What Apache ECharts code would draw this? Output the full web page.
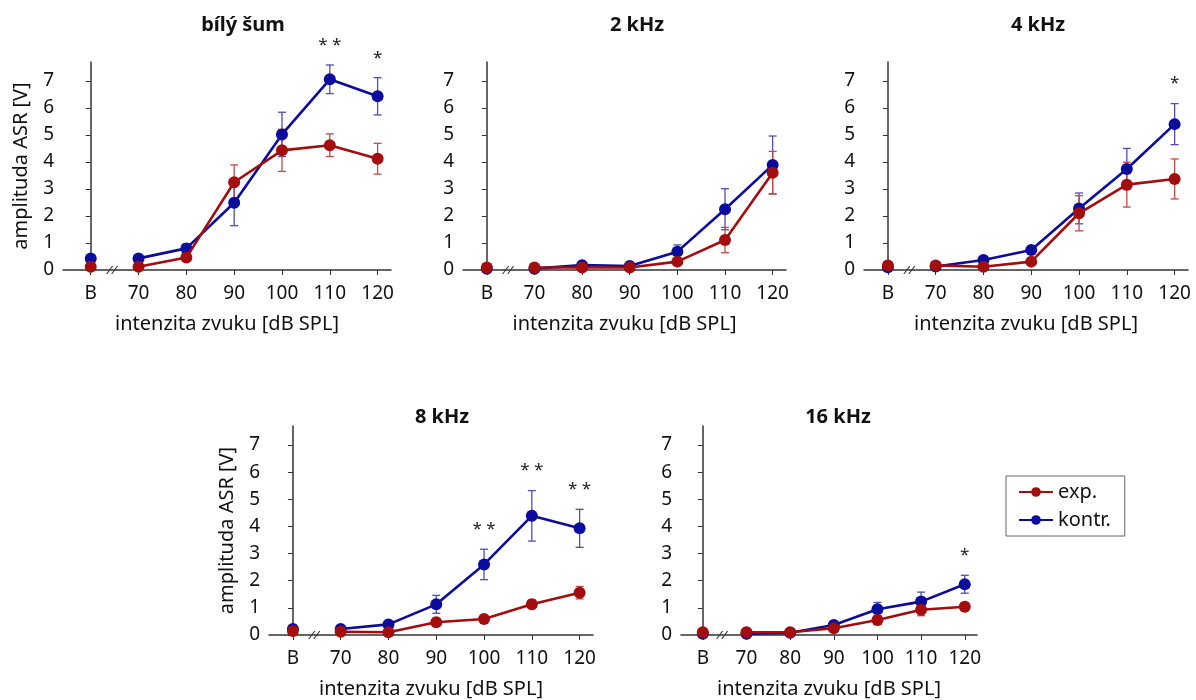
<!DOCTYPE html>
<html lang="cs">
<head>
    <meta charset="UTF-8">
    <title>ASR amplituda</title>
    <script src="https://cdn.jsdelivr.net/npm/echarts@6/dist/echarts.min.js"></script>
    <style>
        body { margin: 0; background: #fff; }
        #main { width: 1196px; height: 700px; }
    </style>
</head>
<body>
<div id="main"></div>
<script>
// data
var categories = ['B', '70', '80', '90', '100', '110', '120'];
var panelTitles = ['bílý šum', '2 kHz', '4 kHz', '8 kHz', '16 kHz'];

var expNoise = [0.12, 0.12, 0.46, 3.25, 4.43, 4.62, 4.12];
var expNoiseErr = [0.05, 0.05, 0.08, 0.64, 0.78, 0.42, 0.57];
var ctrlNoise = [0.43, 0.43, 0.80, 2.49, 5.02, 7.06, 6.43];
var ctrlNoiseErr = [0.05, 0.05, 0.16, 0.85, 0.82, 0.53, 0.69];

var exp2k = [0.09, 0.09, 0.09, 0.09, 0.31, 1.11, 3.60];
var exp2kErr = [0.03, 0.03, 0.03, 0.03, 0.12, 0.47, 0.79];
var ctrl2k = [0.05, 0.05, 0.18, 0.15, 0.68, 2.25, 3.89];
var ctrl2kErr = [0.03, 0.03, 0.04, 0.04, 0.25, 0.76, 1.07];

var exp4k = [0.17, 0.17, 0.12, 0.31, 2.10, 3.16, 3.37];
var exp4kErr = [0.03, 0.03, 0.04, 0.08, 0.65, 0.83, 0.74];
var ctrl4k = [0.10, 0.13, 0.37, 0.74, 2.28, 3.74, 5.40];
var ctrl4kErr = [0.03, 0.03, 0.06, 0.10, 0.57, 0.76, 0.76];

var exp8k = [0.15, 0.12, 0.10, 0.47, 0.59, 1.13, 1.56];
var exp8kErr = [0.03, 0.03, 0.03, 0.10, 0.07, 0.16, 0.23];
var ctrl8k = [0.22, 0.22, 0.39, 1.13, 2.60, 4.39, 3.93];
var ctrl8kErr = [0.03, 0.03, 0.05, 0.33, 0.56, 0.93, 0.70];

var exp16k = [0.10, 0.10, 0.10, 0.25, 0.55, 0.93, 1.04];
var exp16kErr = [0.03, 0.03, 0.03, 0.06, 0.17, 0.22, 0.15];
var ctrl16k = [0.05, 0.05, 0.08, 0.37, 0.95, 1.23, 1.87];
var ctrl16kErr = [0.03, 0.03, 0.03, 0.06, 0.25, 0.35, 0.33];

// significance marks
var sigNoise = ['', '', '', '', '', '**', '*'];
var sig2k = ['', '', '', '', '', '', ''];
var sig4k = ['', '', '', '', '', '', '*'];
var sig8k = ['', '', '', '', '**', '**', '**'];
var sig16k = ['', '', '', '', '', '', '*'];

var yTicks = [0, 1, 2, 3, 4, 5, 6, 7];

var panels = [
    { exp: expNoise, expErr: expNoiseErr, ctrl: ctrlNoise, ctrlErr: ctrlNoiseErr, sig: sigNoise },
    { exp: exp2k, expErr: exp2kErr, ctrl: ctrl2k, ctrlErr: ctrl2kErr, sig: sig2k },
    { exp: exp4k, expErr: exp4kErr, ctrl: ctrl4k, ctrlErr: ctrl4kErr, sig: sig4k },
    { exp: exp8k, expErr: exp8kErr, ctrl: ctrl8k, ctrlErr: ctrl8kErr, sig: sig8k },
    { exp: exp16k, expErr: exp16kErr, ctrl: ctrl16k, ctrlErr: ctrl16kErr, sig: sig16k }
];

// layout of the five plots
var layout = [
    { left: 63, top: 62, width: 328, height: 208, xMin: -0.58, tx: 238, ty: 10, yName: true },
    { left: 463, top: 62, width: 323, height: 208, xMin: -0.5, tx: 632, ty: 10, yName: false },
    { left: 864, top: 62, width: 324, height: 208, xMin: -0.5, tx: 1033, ty: 10, yName: false },
    { left: 269, top: 426, width: 324, height: 209, xMin: -0.5, tx: 437, ty: 402, yName: true },
    { left: 681, top: 426, width: 296, height: 209, xMin: -0.5, tx: 833, ty: 402, yName: false }
];

var FONT = 'Noto Sans';
var RED = '#a30d0d';
var BLUE = '#0b0b9c';
var RED_ERR = '#c24a4a';
var BLUE_ERR = '#4f4fb4';
var AXIS = '#333';

var myChart = echarts.init(document.getElementById('main'));

function pairs(vals) {
    var out = [];
    vals.forEach(function (v, i) {
        out.push([i, v]);
        if (i === 0) out.push([0.5, '-']); // break between B and 70
    });
    return out;
}

function errData(vals, errs) {
    return vals.map(function (v, i) { return [i, v, errs[i]]; });
}

function errRender(color) {
    return function (params, api) {
        var x = api.value(0), m = api.value(1), e = api.value(2);
        var hi = api.coord([x, m + e]);
        var lo = api.coord([x, Math.max(0, m - e)]);
        var w = 4;
        var st = { stroke: color, lineWidth: 1.3 };
        return {
            type: 'group',
            children: [
                { type: 'line', shape: { x1: hi[0], y1: hi[1], x2: lo[0], y2: lo[1] }, style: st },
                { type: 'line', shape: { x1: hi[0] - w, y1: hi[1], x2: hi[0] + w, y2: hi[1] }, style: st },
                { type: 'line', shape: { x1: lo[0] - w, y1: lo[1], x2: lo[0] + w, y2: lo[1] }, style: st }
            ]
        };
    };
}

function sigRender(params, api) {
    var p = api.coord([api.value(0), api.value(1)]);
    return {
        type: 'text',
        x: p[0],
        y: p[1] - 20,
        style: {
            text: api.value(2).split('').join(' '),
            fill: '#222',
            font: '17px "' + FONT + '"',
            align: 'center',
            verticalAlign: 'middle'
        }
    };
}

function breakRender(params, api) {
    var p = api.coord([api.value(0), api.value(1)]);
    var st = { stroke: AXIS, lineWidth: 1.1 };
    return {
        type: 'group',
        children: [
            { type: 'line', shape: { x1: p[0] - 8, y1: p[1] + 4, x2: p[0] - 2, y2: p[1] - 4 }, style: st },
            { type: 'line', shape: { x1: p[0] - 3, y1: p[1] + 4, x2: p[0] + 3, y2: p[1] - 4 }, style: st }
        ]
    };
}

var grids = [], xAxes = [], yAxes = [], titles = [], series = [];

panels.forEach(function (pd, k) {
    var L = layout[k];
    grids.push({ left: L.left, top: L.top, width: L.width, height: L.height });
    titles.push({
        text: panelTitles[k],
        left: L.tx,
        top: L.ty,
        textAlign: 'center',
        textStyle: { fontFamily: FONT, fontSize: 20, fontWeight: 'bold', color: '#111' }
    });
    xAxes.push({
        type: 'value',
        gridIndex: k,
        min: L.xMin,
        max: 6.28,
        name: 'intenzita zvuku [dB SPL]',
        nameLocation: 'middle',
        nameGap: 44,
        nameTextStyle: { fontFamily: FONT, fontSize: 20, color: '#111' },
        axisLine: { lineStyle: { color: AXIS, width: 1.5 } },
        axisTick: { show: true, length: 5, lineStyle: { color: AXIS }, customValues: [0, 1, 2, 3, 4, 5, 6] },
        axisLabel: {
            fontFamily: FONT, fontSize: 19, color: '#111', margin: 14,
            customValues: [0, 1, 2, 3, 4, 5, 6],
            formatter: function (v) { return categories[Math.round(v)]; }
        },
        splitLine: { show: false }
    });
    yAxes.push({
        type: 'value',
        gridIndex: k,
        min: 0,
        max: 7.7,
        name: L.yName ? 'amplituda ASR [V]' : '',
        nameLocation: 'middle',
        nameGap: 32,
        nameTextStyle: { fontFamily: FONT, fontSize: 20, color: '#111' },
        axisLine: { show: true, lineStyle: { color: AXIS, width: 1.5 } },
        axisTick: { show: true, length: 5, lineStyle: { color: AXIS }, customValues: yTicks },
        axisLabel: { fontFamily: FONT, fontSize: 19, color: '#111', margin: 9, customValues: yTicks },
        splitLine: { show: false }
    });

    series.push({
        type: 'custom', name: 'kontr. sem', xAxisIndex: k, yAxisIndex: k, z: 2,
        renderItem: errRender(BLUE_ERR), data: errData(pd.ctrl, pd.ctrlErr), silent: true
    });
    series.push({
        type: 'custom', name: 'exp. sem', xAxisIndex: k, yAxisIndex: k, z: 2,
        renderItem: errRender(RED_ERR), data: errData(pd.exp, pd.expErr), silent: true
    });
    series.push({
        type: 'line', name: 'kontr.', xAxisIndex: k, yAxisIndex: k, z: 3,
        data: pairs(pd.ctrl), symbol: 'circle', symbolSize: 12, connectNulls: false,
        itemStyle: { color: BLUE }, lineStyle: { color: BLUE, width: 2.6 }, animation: false
    });
    series.push({
        type: 'line', name: 'exp.', xAxisIndex: k, yAxisIndex: k, z: 4,
        data: pairs(pd.exp), symbol: 'circle', symbolSize: 12, connectNulls: false,
        itemStyle: { color: RED }, lineStyle: { color: RED, width: 2.6 }, animation: false
    });

    var sigData = [];
    pd.sig.forEach(function (s, i) {
        if (s) {
            var top = Math.max(pd.ctrl[i] + pd.ctrlErr[i], pd.exp[i] + pd.expErr[i]);
            sigData.push([i, top, s]);
        }
    });
    series.push({
        type: 'custom', xAxisIndex: k, yAxisIndex: k, z: 5, silent: true,
        renderItem: sigRender, data: sigData, clip: false
    });
    series.push({
        type: 'custom', xAxisIndex: k, yAxisIndex: k, z: 5, silent: true,
        renderItem: breakRender, data: [[0.5, 0]], clip: false
    });
});

myChart.setOption({
    animation: false,
    backgroundColor: '#fff',
    title: titles,
    legend: {
        data: ['exp.', 'kontr.'],
        orient: 'vertical',
        left: 1006,
        top: 476,
        borderColor: '#666',
        borderWidth: 1,
        padding: [6, 14, 6, 12],
        itemWidth: 34,
        itemHeight: 12,
        itemGap: 8,
        textStyle: { fontFamily: FONT, fontSize: 20, color: '#111' }
    },
    grid: grids,
    xAxis: xAxes,
    yAxis: yAxes,
    series: series
});
</script>
</body>
</html>
